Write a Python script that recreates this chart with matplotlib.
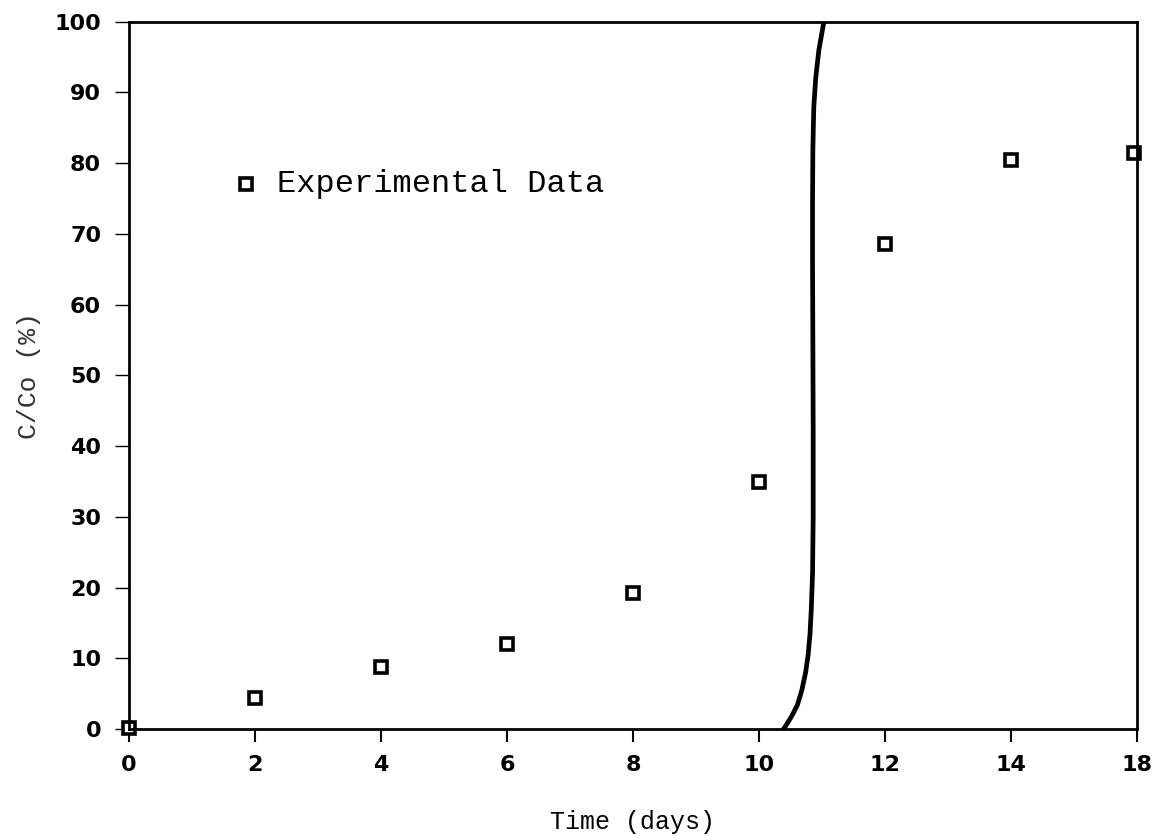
import matplotlib.pyplot as plt

# experimental points
days = [0, 2, 4, 6, 8, 10, 12, 14, 15.95]
conc = [0.2, 4.4, 8.8, 12.0, 19.2, 34.9, 68.6, 80.5, 81.5]

# model curve
curve_x = [10.39, 10.45, 10.53, 10.61, 10.68, 10.74, 10.78, 10.81, 10.83, 10.85,
           10.86, 10.86, 10.855, 10.85, 10.85, 10.855, 10.87, 10.90, 10.95, 11.03]
curve_y = [0, 0.8, 2.0, 3.4, 5.5, 8.0, 10.5, 13.5, 17, 22,
           30, 42, 55, 65, 75, 82, 88, 92, 96, 100]

xticks = [0, 2, 4, 6, 8, 10, 12, 14, 16]
xtick_labels = ['0', '2', '4', '6', '8', '10', '12', '14', '18']
yticks = [0, 10, 20, 30, 40, 50, 60, 70, 80, 90, 100]

fig = plt.figure(figsize=(11.62, 8.36), dpi=100)
ax = fig.add_axes([0.111, 0.128, 0.8675, 0.846])

ax.plot(curve_x, curve_y, color='black', lw=3.4, solid_capstyle='round')
ax.plot(days, conc, ls='none', marker='s', ms=9, mfc='white', mec='black', mew=2.6,
        clip_on=False)

ax.set_xlim(0, 16)
ax.set_ylim(0, 100)
for s in ax.spines.values():
    s.set_linewidth(2)
ax.set_xticks(xticks)
ax.set_xticklabels(xtick_labels)
ax.set_yticks(yticks)
ax.tick_params(axis='x', direction='out', length=9, width=1.5, pad=10,
               labelsize=16)
ax.tick_params(axis='y', direction='out', length=10, width=1, pad=10,
               labelsize=16)
for lab in ax.get_xticklabels() + ax.get_yticklabels():
    lab.set_fontweight('bold')
for t in ax.yaxis.get_ticklines():
    t.set_linestyle((0, (1, 1)))

ax.set_xlabel('Time (days)', family='Liberation Mono', fontsize=18, labelpad=25)
ax.set_ylabel('C/Co (%)', family='Liberation Mono', fontsize=19, labelpad=10,
              color='#333333')

# legend drawn as marker + text
ax.plot([1.85], [77], ls='none', marker='s', ms=8, mfc='white', mec='black', mew=2.6)
ax.text(2.35, 77, 'Experimental Data', family='Liberation Mono', fontsize=23,
        va='center')

plt.savefig('out.png', dpi=100)
